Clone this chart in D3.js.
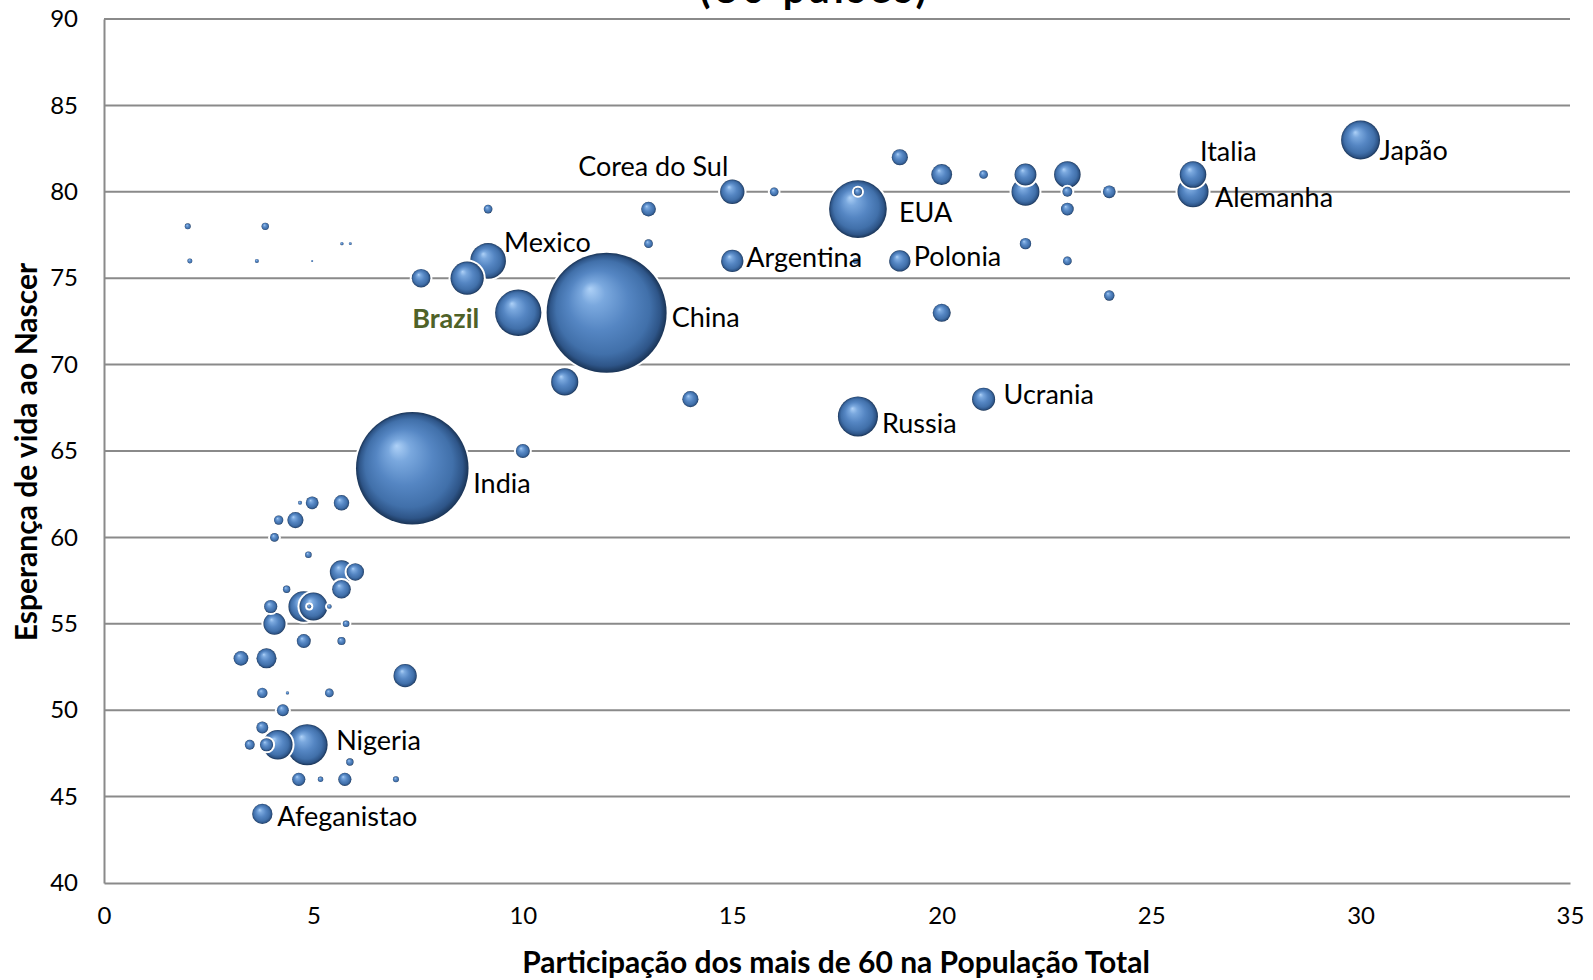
<!DOCTYPE html>
<html><head><meta charset="utf-8">
<script src="https://cdn.jsdelivr.net/npm/d3@7"></script>
<style>body{margin:0;background:#fff;overflow:hidden}</style>
</head><body><svg id="c" width="1593" height="980"></svg>
<script>
// ---- data ----
const xVals = [2.0,2.05,3.85,3.65,4.97,5.68,5.88,9.17,7.57,8.67,9.17,9.89,12,11.0,13,13,15,16,15,14,18,18,17.95,19,19,20,21,22,22,23,23,23,22,23,24,24,20,18,21,26,26,30,10,7.36,
  4.68,4.97,5.67,4.17,4.57,4.07,4.88,5.67,6.0,5.67,4.36,3.98,4.77,5.0,4.9,5.38,4.07,5.78,4.77,5.67,3.27,3.88,7.19,3.78,4.38,5.38,4.27,3.78,3.48,3.88,4.15,4.85,5.87,4.65,5.17,5.75,6.97,3.78];
const yVals = [78,76,78,76,76,77,77,79,75,75,76,73,73,69,79,77,80,80,76,68,79,80,76,82,76,81,81,81,80,81,80,79,77,76,80,74,73,67,68,81,80,83,65,64,
  62,62,62,61,61,60,59,58,58,57,57,56,56,56,56,56,55,55,54,54,53,53,52,51,51,51,50,49,48,48,48,48,47,46,46,46,46,44];
const popVals = [3.3,2.3,5,1.5,0.4,1,0.8,7,32,102,118,198,1330,68,20,7,55,7,46,24,307,6,3,24,42,40,7,44,72,65,9,15,12,7,15,10,30,148,49,65,89,140,18,1170,
  1.5,15,22,8,24,7,4,50,28,32,5,16,87,72,1.5,2,45,4,18,6,20,37,50,10,1,7,13,13,9,16,80,155,5,16,2.7,16,3.3,38];
const names = ["","","","","","","","","","","Mexico","Brazil","China","","","","Corea do Sul","","Argentina","","EUA","","","","Polonia","","","","","","","","","","","","","Russia","Ucrania","Italia","Alemanha","Japão","","India",
  "","","","","","","","","","","","","","","","","","","","","","","","","","","","","","","","Nigeria","","","","","","Afeganistao"];
const xTicks = [0,5,10,15,20,25,30,35];
const yTicks = [40,45,50,55,60,65,70,75,80,85,90];
const titleText = "(80 países)";
const xTitle = "Participação dos mais de 60 na População Total";
const yTitle = "Esperança de vida ao Nascer";

// ---- layout ----
const L = {left:104, right:1570, top:19, bottom:883};
const labelLayout = {
  "Corea do Sul":{dx:-4,dy:-25,anchor:"end"},
  "Mexico":{dx:16,dy:-18},
  "Brazil":{dx:-39,dy:6,anchor:"end",bold:true,color:"#4f6228"},
  "China":{dx:65,dy:5},
  "Argentina":{dx:14,dy:-3},
  "EUA":{dx:41,dy:3},
  "Polonia":{dx:14,dy:-4},
  "Italia":{dx:7,dy:-23},
  "Alemanha":{dx:22,dy:6},
  "Japão":{dx:19,dy:11},
  "Ucrania":{dx:20,dy:-5},
  "Russia":{dx:24,dy:7},
  "India":{dx:61,dy:15},
  "Nigeria":{dx:29,dy:-4},
  "Afeganistao":{dx:15,dy:3}
};

const svg = d3.select("#c");
const x = d3.scaleLinear().domain([0,35]).range([L.left,L.right]);
const y = d3.scaleLinear().domain([40,90]).range([L.bottom,L.top]);
const r = d3.scaleSqrt().domain([0,1330]).range([0,60]);

const defs = svg.append("defs");
const g = defs.append("radialGradient").attr("id","sph").attr("cx","50%").attr("cy","50%").attr("r","50%").attr("fx","36%").attr("fy","30%");
[[0,"#aed1f7"],[0.2,"#7aa8de"],[0.5,"#5586c3"],[0.78,"#4170aa"],[0.92,"#2e5588"],[1,"#1a3456"]].forEach(s=>g.append("stop").attr("offset",s[0]).attr("stop-color",s[1]));

const font = "Lato, 'Open Sans', sans-serif";

// title (cut off at top, as in the reference)
svg.append("text").attr("x",815).attr("y",3).attr("text-anchor","middle")
  .attr("font-family",font).attr("font-weight","bold").attr("font-size",40).attr("letter-spacing",4)
  .text(titleText);

// gridlines
svg.append("g").selectAll("line").data(yTicks.filter(d=>d>40)).join("line")
  .attr("x1",L.left).attr("x2",L.right).attr("y1",d=>y(d)).attr("y2",d=>y(d))
  .attr("stroke","#8a8a8a").attr("stroke-width",2);

// axes
const yAxis = svg.append("g").attr("transform",`translate(${L.left},0)`).call(d3.axisLeft(y).tickValues(yTicks).tickSize(0).tickPadding(26));
const xAxis = svg.append("g").attr("transform",`translate(0,${L.bottom})`).call(d3.axisBottom(x).tickValues(xTicks).tickSize(0).tickPadding(24));
[yAxis,xAxis].forEach(a=>{
  a.select(".domain").attr("stroke","#8a8a8a").attr("stroke-width",2);
  a.selectAll("text").attr("font-family",font).attr("font-size",24).attr("fill","#000");
});

// bubbles
const data = xVals.map((v,i)=>({x:v,y:yVals[i],p:popVals[i],n:names[i]}));
const sorted = data.slice().sort((a,b)=>b.p-a.p);
const bg = svg.append("g");
sorted.forEach(d=>{
  bg.append("circle").attr("cx",x(d.x)).attr("cy",y(d.y)).attr("r",r(d.p)+2).attr("fill","#fff");
  bg.append("circle").attr("cx",x(d.x)).attr("cy",y(d.y)).attr("r",r(d.p)).attr("fill","url(#sph)");
});

// labels
const lg = svg.append("g");
data.filter(d=>d.n).forEach(d=>{
  const o = labelLayout[d.n];
  lg.append("text").attr("x",x(d.x)+o.dx).attr("y",y(d.y)+o.dy).attr("dy","0.35em")
    .attr("text-anchor",o.anchor||"start").attr("font-family",font).attr("font-size",27)
    .attr("font-weight",o.bold?"bold":"normal").attr("fill",o.color||"#000").text(d.n);
});

// axis titles
svg.append("text").attr("x",836).attr("y",962).attr("dy","0.35em").attr("text-anchor","middle")
  .attr("font-family",font).attr("font-weight","bold").attr("font-size",30).text(xTitle);
svg.append("text").attr("transform","translate(26,452) rotate(-90)").attr("dy","0.35em").attr("text-anchor","middle")
  .attr("font-family",font).attr("font-weight","bold").attr("font-size",30).text(yTitle);
</script>
</body></html>
